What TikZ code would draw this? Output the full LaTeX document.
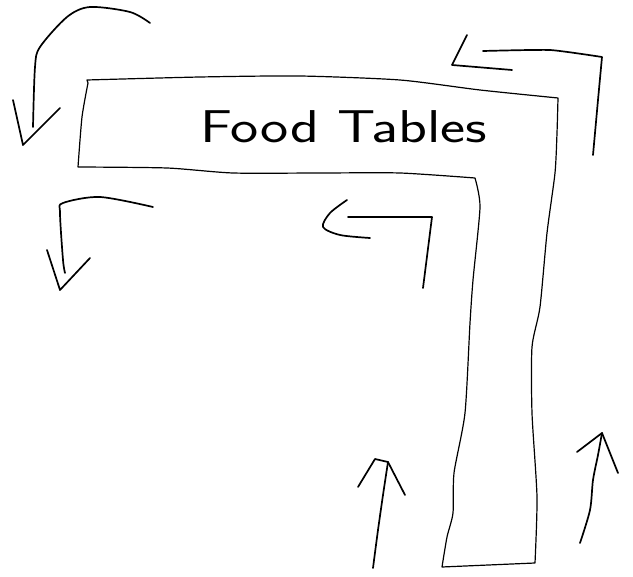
\documentclass[tikz,border=0pt]{standalone}
\begin{document}
\begin{tikzpicture}[
	x=1pt, y=-1pt,
	pen/.style={ line width=1.7pt, line cap=round, line join=round },
	outline/.style={ line width=1.2pt, line cap=round, line join=round },
	label/.style={ font=\sffamily\fontsize{46}{50}\selectfont, inner sep=0pt, xscale=1.3 }
]
\useasboundingbox (0,0) rectangle (633,577);

% table outline
\draw[outline] plot[smooth, tension=0.4] coordinates {(87,80) (200,77) (300,76) (400,80) (480,90) (558,98)}
	-- plot[smooth, tension=0.4] coordinates {(558,98) (557,133) (555,173) (547,233) (540,307) (532,347) (532,413) (537,497) (535,563)}
	-- (442,567)
	-- plot[smooth, tension=0.4] coordinates {(442,567) (447,537) (453,513) (454,473) (465,413) (470,323) (473,280) (480,207) (475,178)}
	-- plot[smooth, tension=0.4] coordinates {(475,178) (400,173) (320,173) (233,173) (167,168) (78,167)}
	-- plot[smooth, tension=0.4] coordinates {(78,167) (82,117) (88,83)} -- cycle;

% label
\node (ftab) [label, anchor=base west] at (200,143) {Food Tables};

% arrow top left
\draw[pen] plot[smooth] coordinates {(150,23) (130,12) (90,7) (67,17) (40,47) (35,67) (33,127)};
\draw[pen] (13,100) -- (23,145) -- (60,108);

% arrow middle left
\draw[pen] plot[smooth] coordinates {(153,207) (100,197) (63,203) (60,213) (63,260) (65,273)};
\draw[pen] (47,250) -- (60,290) -- (90,258);

% arrow top right
\draw[pen] plot[smooth, tension=0.3] coordinates {(593,155) (598,100) (602,57)}
	-- plot[smooth, tension=0.3] coordinates {(602,57) (550,50) (483,51)};
\draw[pen] (467,35) -- (452,65) -- (512,70);

% arrow inner
\draw[pen] (423,288) -- (432,217) -- (348,217);
\draw[pen] plot[smooth] coordinates {(347,200) (330,213) (323,227) (340,235) (370,238)};

% arrow bottom middle
\draw[pen] plot[smooth] coordinates {(373,568) (378,530) (383,495) (388,462)};
\draw[pen] (358,487) -- (375,459) -- (388,462) -- (405,495);

% arrow bottom right
\draw[pen] plot[smooth] coordinates {(580,543) (590,510) (593,480) (598,455) (602,433)};
\draw[pen] (577,452) -- (602,433) -- (618,473);

\end{tikzpicture}
\end{document}
